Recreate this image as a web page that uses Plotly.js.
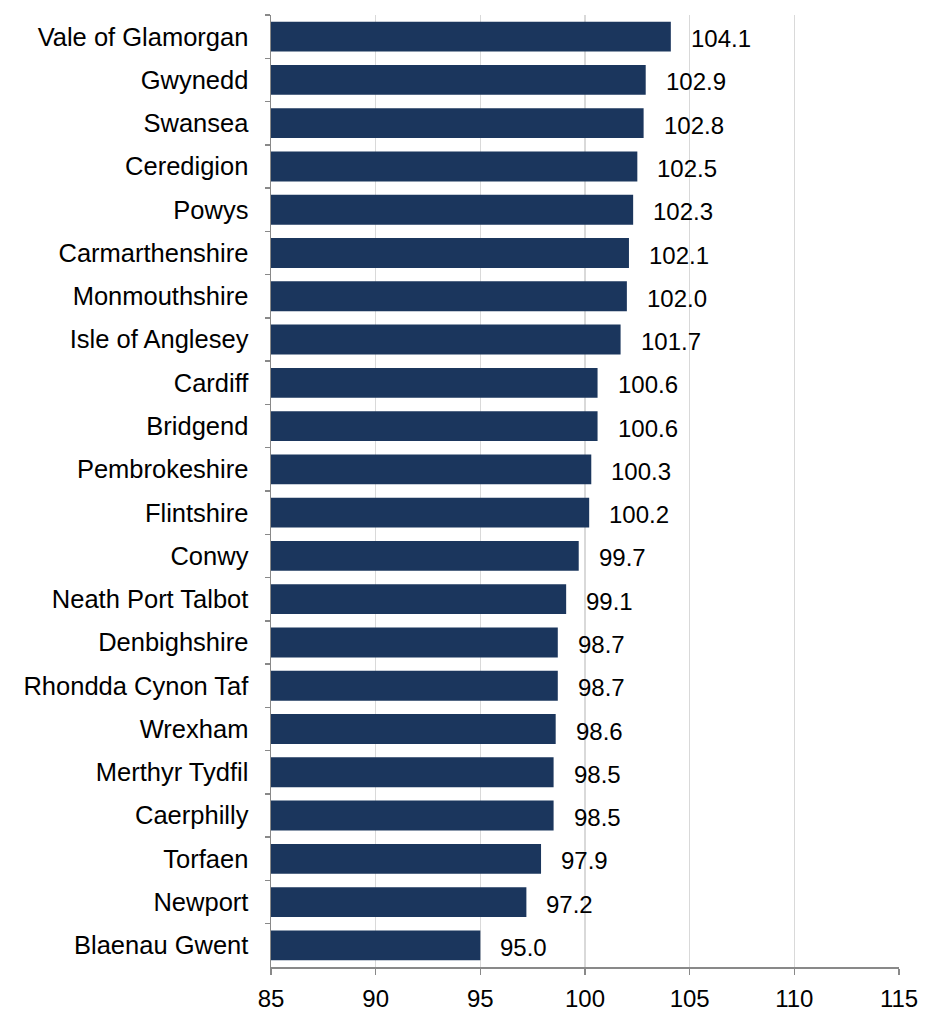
<!DOCTYPE html>
<html>
<head>
<meta charset="utf-8">
<script src="https://cdn.plot.ly/plotly-3.0.1.min.js"></script>
<style>html,body{margin:0;padding:0;background:#fff;}#chart{width:927px;height:1014px;}</style>
</head>
<body>
<div id="chart"></div>
<script>
const categories = ["Vale of Glamorgan","Gwynedd","Swansea","Ceredigion","Powys","Carmarthenshire","Monmouthshire","Isle of Anglesey","Cardiff","Bridgend","Pembrokeshire","Flintshire","Conwy","Neath Port Talbot","Denbighshire","Rhondda Cynon Taf","Wrexham","Merthyr Tydfil","Caerphilly","Torfaen","Newport","Blaenau Gwent"];
const values = [104.1,102.9,102.8,102.5,102.3,102.1,102.0,101.7,100.6,100.6,100.3,100.2,99.7,99.1,98.7,98.7,98.6,98.5,98.5,97.9,97.2,95.0];
const xTicks = [85,90,95,100,105,110,115];
const baseValue = 85;

const font = "Liberation Sans, Arial, sans-serif";
const trace = {
  type: "bar",
  orientation: "h",
  y: categories,
  x: values.map(v => v - baseValue),
  base: baseValue,
  marker: {color: "#1b365d", line: {width: 0}},
  hoverinfo: "none"
};

const annotations = categories.map((c, i) => ({
  x: values[i], y: c, xref: "x", yref: "y",
  text: values[i].toFixed(1), showarrow: false,
  xanchor: "left", yanchor: "middle", xshift: 18, yshift: -2,
  font: {family: font, size: 24, color: "#000"}
}));

const layout = {
  width: 927, height: 1014,
  margin: {l: 271, r: 28, t: 15, b: 47},
  paper_bgcolor: "#fff", plot_bgcolor: "#fff",
  showlegend: false,
  bargap: 0.31,
  font: {family: font, size: 24, color: "#000"},
  xaxis: {
    range: [85, 115], tickvals: xTicks, ticktext: xTicks.map(String),
    showgrid: true, gridcolor: "#d9d9d9", gridwidth: 1.5,
    showline: true, linecolor: "#898989", linewidth: 1.5,
    ticks: "outside", ticklen: 6, tickcolor: "#898989", tickwidth: 1.5,
    zeroline: false, ticklabelstandoff: 4,
    tickfont: {family: font, size: 24, color: "#000"}
  },
  yaxis: {
    type: "category", autorange: "reversed",
    showgrid: false, showline: true, linecolor: "#898989", linewidth: 1.5,
    ticks: "outside", ticklen: 5, tickcolor: "#898989", tickwidth: 1.5,
    tickson: "boundaries", ticklabelstandoff: 16,
    tickfont: {family: font, size: 25.5, color: "#000"}
  },
  annotations: annotations
};

Plotly.newPlot("chart", [trace], layout, {staticPlot: true, displayModeBar: false});
</script>
</body>
</html>
